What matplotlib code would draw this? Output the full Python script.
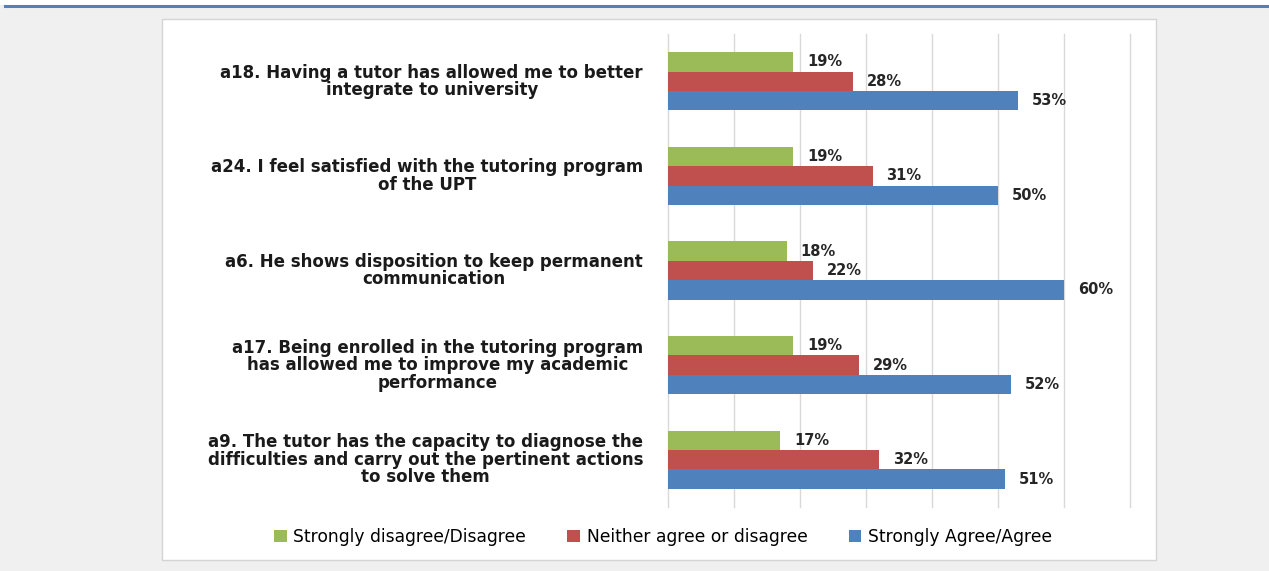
import matplotlib
matplotlib.use("Agg")
import matplotlib.pyplot as plt
import numpy as np
from matplotlib.patches import Rectangle

# ── Data ──────────────────────────────────────────────────────────────────────
questions = [
    "a18. Having a tutor has allowed me to better\nintegrate to university",
    "a24. I feel satisfied with the tutoring program\nof the UPT",
    "a6. He shows disposition to keep permanent\ncommunication",
    "a17. Being enrolled in the tutoring program\nhas allowed me to improve my academic\nperformance",
    "a9. The tutor has the capacity to diagnose the\ndifficulties and carry out the pertinent actions\nto solve them",
]
disagree = [19, 19, 18, 19, 17]
neither  = [28, 31, 22, 29, 32]
agree    = [53, 50, 60, 52, 51]

series_names  = ["Strongly disagree/Disagree", "Neither agree or disagree",
                 "Strongly Agree/Agree"]
series_colors = ["#9BBB59", "#C0504D", "#4F81BD"]

W, H = 1269, 571

fig = plt.figure(figsize=(W / 100, H / 100), dpi=100, facecolor="#F0F0F0")

# page strip + blue rule at the top, white chart box
fig.patches.append(Rectangle((0, 1 - 5 / H), 1, 5 / H, transform=fig.transFigure,
                             facecolor="white", edgecolor="none", zorder=-2))
fig.add_artist(plt.Line2D([5 / W, 1], [1 - 5.5 / H, 1 - 5.5 / H], color="#4F81BD",
                          lw=2.2, transform=fig.transFigure, zorder=-1))
fig.patches.append(Rectangle((162 / W, 1 - 560 / H), (1156 - 162) / W, (560 - 19) / H,
                             transform=fig.transFigure, facecolor="white",
                             edgecolor="#D4D4D4", lw=1, zorder=-2))

ax = fig.add_axes([668 / W, 1 - 507 / H, (1130 - 668) / W, (507 - 34) / H])
ax.set_facecolor("none")
ax.set_zorder(3)

y = np.arange(len(questions))
h = 0.205
values = [disagree, neither, agree]
offsets = [-h, 0, h]

for vals, off, col, name in zip(values, offsets, series_colors, series_names):
    bars = ax.barh(y + off, vals, height=h, color=col, label=name, zorder=3)
    for bar, v in zip(bars, vals):
        ax.annotate(f"{v}%", (bar.get_width(), bar.get_y() + bar.get_height() / 2),
                    xytext=(10, 0), textcoords="offset points", ha="left", va="center",
                    fontsize=10.5, fontweight="bold", color="#262626")

ax.set_xlim(0, 70)
ax.set_ylim(len(questions) - 0.5, -0.5)
ax.set_xticks(np.arange(0, 71, 10))
ax.xaxis.grid(True, color="#D9D9D9", lw=1, zorder=0)
for gl in ax.get_xgridlines():
    gl.set_clip_on(False)
ax.tick_params(axis="x", length=0, labelbottom=False)
ax.tick_params(axis="y", length=0, labelleft=False)
for s in ax.spines.values():
    s.set_visible(False)

for yi, q in zip(y, questions):
    ax.text(-25 / 6.6, yi, q, ha="right", va="center", multialignment="center",
            fontsize=12, fontweight="bold", color="#1A1A1A", linespacing=0.97)

fig.legend(loc="center", bbox_to_anchor=(663 / W, 1 - 537 / H), ncol=3, frameon=False,
           handlelength=0.75, handleheight=0.75, handletextpad=0.4,
           columnspacing=2.4, prop={"size": 12.3})

fig.savefig("out.png", dpi=100, facecolor=fig.get_facecolor())
